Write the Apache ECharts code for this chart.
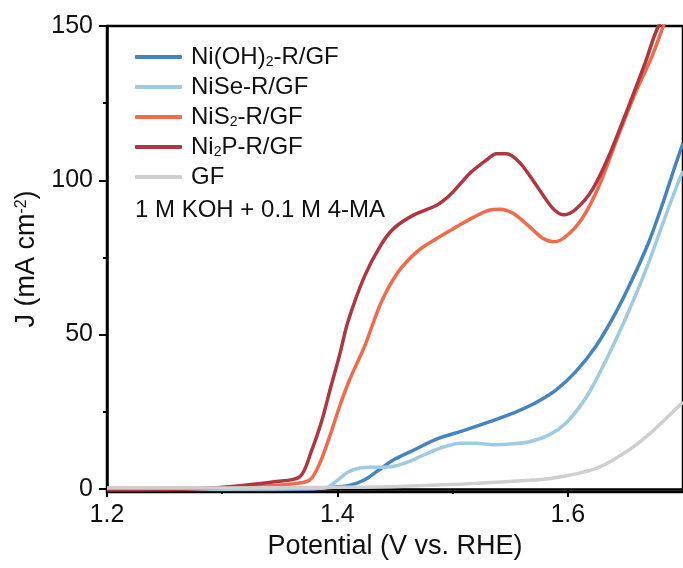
<!DOCTYPE html>
<html>
<head>
<meta charset="utf-8">
<script src="https://cdn.jsdelivr.net/npm/echarts@6/dist/echarts.min.js"></script>
<style>
  html, body { margin: 0; padding: 0; background: #fff; }
  #chart { width: 683px; height: 568px; }
</style>
</head>
<body>
<div id="chart"></div>
<script>
// Linear sweep voltammetry curves (potential in V vs. RHE, current density in mA cm^-2)
const seriesNames = ['Ni(OH)2-R/GF', 'NiSe-R/GF', 'NiS2-R/GF', 'Ni2P-R/GF', 'GF'];

const vNiOH = [1.20, 1.30, 1.38, 1.3918, 1.409, 1.4234, 1.4348, 1.4492, 1.4664, 1.4865, 1.5094, 1.5323, 1.5553, 1.5725, 1.5897, 1.6069, 1.6241, 1.6413, 1.6557, 1.6699, 1.6815, 1.6929, 1.70];
const jNiOH = [-0.2, -0.2, 0, 0.4, 1, 2.9, 5.8, 9.5, 12.6, 16.2, 18.9, 21.8, 25, 28, 32, 38, 46.1, 56.9, 67.7, 79.6, 91.5, 104.4, 112];

const vNiSe = [1.20, 1.30, 1.38, 1.3918, 1.4004, 1.409, 1.4176, 1.4291, 1.4434, 1.4578, 1.475, 1.4893, 1.5065, 1.5209, 1.5352, 1.5524, 1.5667, 1.5839, 1.5983, 1.6126, 1.6241, 1.6413, 1.6557, 1.6699, 1.6815, 1.6955, 1.70];
const jNiSe = [-0.1, -0.1, 0.2, 0.6, 2.9, 5.4, 6.6, 7, 7.1, 8.3, 11, 13.2, 14.8, 14.8, 14.3, 14.6, 15.3, 17.5, 21.3, 27.8, 35, 48, 60, 73, 85, 99, 103];

const vNiS2 = [1.20, 1.28, 1.33, 1.36, 1.376, 1.3847, 1.3933, 1.4019, 1.4105, 1.4234, 1.4377, 1.452, 1.4692, 1.4865, 1.5037, 1.518, 1.5323, 1.5409, 1.5524, 1.5667, 1.5782, 1.5882, 1.5983, 1.6126, 1.6269, 1.6413, 1.6585, 1.6729, 1.6828, 1.70];
const jNiS2 = [0.2, 0.3, 0.8, 1.6, 2.9, 8.3, 17, 26.7, 35.3, 46, 60.2, 69.9, 76.9, 81.2, 85, 88, 90.4, 90.6, 89.3, 85, 81.2, 80.1, 81.8, 87.7, 98, 112, 128.2, 140, 149.8, 166];

const vNi2P = [1.20, 1.25, 1.29, 1.32, 1.345, 1.3675, 1.3772, 1.386, 1.3946, 1.402, 1.409, 1.4234, 1.4377, 1.4492, 1.4664, 1.4865, 1.4979, 1.5151, 1.5295, 1.538, 1.5467, 1.5581, 1.5725, 1.5868, 1.5968, 1.6069, 1.6212, 1.6355, 1.6527, 1.6671, 1.6785, 1.70];
const jNi2P = [-0.3, -0.2, 0.2, 1.2, 2.3, 4, 12, 21.5, 33.5, 43.5, 54, 68.8, 79, 84.5, 88.8, 92, 95.3, 102.3, 106.6, 108.6, 108.6, 105.8, 98.5, 91, 88.8, 90.6, 96.9, 107.7, 123.9, 138, 149.8, 163];

const vGF = [1.20, 1.30, 1.40, 1.452, 1.5094, 1.5667, 1.5853, 1.6011, 1.6150, 1.6269, 1.6385, 1.6557, 1.6671, 1.6757, 1.6955, 1.70];
const jGF = [0.3, 0.3, 0.5, 0.8, 1.6, 2.8, 3.4, 4.4, 5.6, 7.0, 9.2, 13.3, 16.6, 19.4, 26.5, 28.2];

const xTicks = [1.2, 1.4, 1.6];
const xMinorTicks = [1.3, 1.5];
const yTicks = [0, 50, 100, 150];
const yMinorTicks = [25, 75, 125];

const colors = ['#4684C1', '#A0CAE2', '#F26A4A', '#B0373F', '#CFCFCF'];
const curves = [[vNiOH, jNiOH], [vNiSe, jNiSe], [vNiS2, jNiS2], [vNi2P, jNi2P], [vGF, jGF]];

const FONT = '"Liberation Sans", Arial, sans-serif';

function pairs(xs, ys) { return xs.map((x, i) => [x, ys[i]]); }

// legend labels with subscript digits
function legendLabel(name) {
  return name.replace(/(\D)2/g, '$1{s|2}');
}

const chart = echarts.init(document.getElementById('chart'), null, { renderer: 'canvas' });

const axisLine = { show: true, lineStyle: { color: '#000', width: 2.5 } };

chart.setOption({
  animation: false,
  backgroundColor: '#fff',
  grid: { left: 107, top: 26, right: -5, bottom: 76, show: true, borderColor: '#000', borderWidth: 2.5 },
  legend: {
    orient: 'vertical',
    left: 135,
    top: 45,
    padding: 0,
    itemGap: 6,
    itemWidth: 47,
    itemHeight: 4,
    icon: 'roundRect',
    data: seriesNames,
    formatter: (name) => legendLabel(name),
    textStyle: {
      fontFamily: FONT,
      fontSize: 24,
      lineHeight: 24,
      color: '#111',
      padding: [0, 0, 0, 4],
      rich: {
        s: { fontFamily: FONT, fontSize: 14, lineHeight: 24, verticalAlign: 'bottom', color: '#111' }
      }
    }
  },
  graphic: [{
    type: 'text',
    left: 135,
    top: 198,
    style: { text: '1 M KOH + 0.1 M 4-MA', font: '24px ' + FONT, fill: '#111' }
  }],
  xAxis: [{
    type: 'value',
    min: 1.2,
    max: 1.7,
    position: 'bottom',
    axisLine: axisLine,
    splitLine: { show: false },
    axisTick: { show: true, inside: false, length: 8, lineStyle: { color: '#000', width: 2 }, customValues: xTicks },
    axisLabel: { fontFamily: FONT, fontSize: 25, color: '#111', margin: 11, customValues: xTicks, formatter: (v) => v.toFixed(1) },
    name: 'Potential (V vs. RHE)',
    nameLocation: 'middle',
    nameGap: 40,
    nameTextStyle: { fontFamily: FONT, fontSize: 27, color: '#111' }
  }, {
    type: 'value',
    min: 1.2,
    max: 1.7,
    position: 'bottom',
    axisLine: { show: false },
    splitLine: { show: false },
    axisTick: { show: true, inside: false, length: 5, lineStyle: { color: '#000', width: 2 }, customValues: xMinorTicks },
    axisLabel: { show: false }
  }],
  yAxis: [{
    type: 'value',
    min: -1,
    max: 150,
    position: 'left',
    axisLine: axisLine,
    splitLine: { show: false },
    axisTick: { show: true, inside: false, length: 8, lineStyle: { color: '#000', width: 2 }, customValues: yTicks },
    axisLabel: { fontFamily: FONT, fontSize: 25, color: '#111', margin: 14, customValues: yTicks },
    name: 'J (mA cm{sup|-2})',
    nameLocation: 'middle',
    nameGap: 63,
    nameTextStyle: {
      fontFamily: FONT, fontSize: 27, color: '#111', lineHeight: 27,
      rich: { sup: { fontFamily: FONT, fontSize: 16, lineHeight: 27, verticalAlign: 'top', color: '#111' } }
    }
  }, {
    type: 'value',
    min: -1,
    max: 150,
    position: 'left',
    axisLine: { show: false },
    splitLine: { show: false },
    axisTick: { show: true, inside: false, length: 4, lineStyle: { color: '#000', width: 2 }, customValues: yMinorTicks },
    axisLabel: { show: false }
  }],
  series: seriesNames.map((name, i) => ({
    name: name,
    type: 'line',
    xAxisIndex: 0,
    yAxisIndex: 0,
    data: pairs(curves[i][0], curves[i][1]),
    showSymbol: false,
    smooth: 0.3,
    clip: true,
    color: colors[i],
    lineStyle: { color: colors[i], width: 3.5 },
    z: 2 + i
  }))
});
</script>
</body>
</html>
